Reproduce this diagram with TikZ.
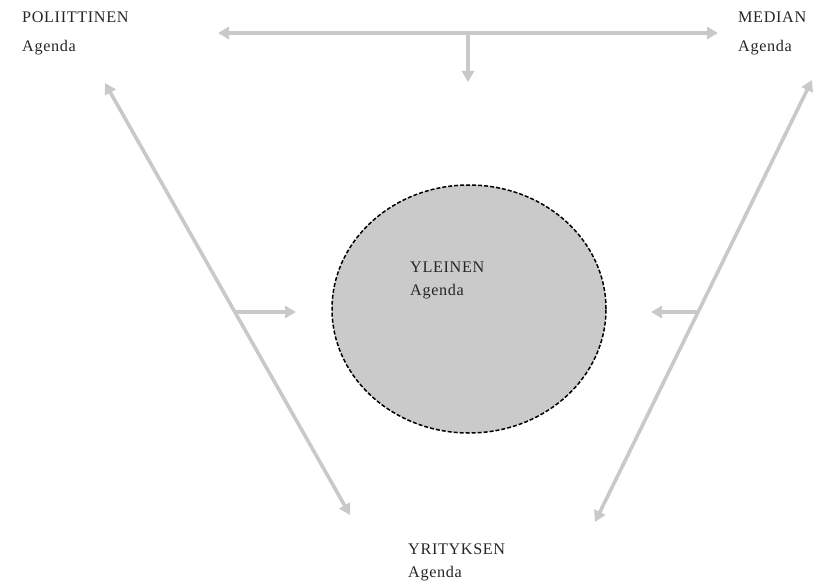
\documentclass[tikz,border=0pt]{standalone}
\usepackage{fontspec}
\setmainfont{Liberation Serif}[LetterSpace=4]
\usepackage{tikz}
\usetikzlibrary {arrows.meta,
                 calc,
                 positioning,
                 shapes.geometric}
\definecolor{flowgray}{HTML}{C9C9C9}
\definecolor{poolgray}{HTML}{CACACA}
\definecolor{labelgray}{HTML}{262626}
\tikzset{
        agenda/.style={align=left, inner sep=0pt, text=labelgray,
                       font=\fontsize{16.2}{#1}\selectfont},
        agenda/.default=23,
        pool/.style={ellipse, draw=black, fill=poolgray,
                     line width=1.5pt, dash pattern=on 4pt off 2pt,
                     minimum width=274pt, minimum height=248pt},
        flow/.style={-{Triangle[length=11pt,width=12pt]}, draw=flowgray,
                     line width=3.6pt},
        twoflow/.style={flow, {Triangle[length=11pt,width=12pt]}-{Triangle[length=11pt,width=12pt]}},
 }

\begin{document}
\begin{tikzpicture}[x=1pt, y=-1pt]
    \useasboundingbox (0,0) rectangle (840,588);

    \node[pool] (yleinen) at (469,309) {};
    \node[agenda, anchor=north west] (yleinenTxt) at (410,262) {YLEINEN\\Agenda};

    \node[agenda=29, anchor=north west] (pol) at (22,12) {POLIITTINEN\\Agenda};
    \node[agenda=29, anchor=north west] (med) at (738,12) {MEDIAN\\Agenda};
    \node[agenda, anchor=north west] (yri) at (408,544) {YRITYKSEN\\Agenda};

    % arrow ends
    \coordinate (tl) at (218,33);
    \coordinate (tr) at (718,33);
    \coordinate (lt) at (105,83);
    \coordinate (lb) at (350,515);
    \coordinate (rt) at (812,80);
    \coordinate (rb) at (595,522);

    \coordinate (tm) at ($(tl)!0.5!(tr)$);
    \coordinate (tmEnd) at (468,82);
    \coordinate (lm) at ($(lt)!0.53!(lb)$);
    \coordinate (lmEnd) at (296,312);
    \coordinate (rm) at ($(rt)!0.525!(rb)$);
    \coordinate (rmEnd) at (651,312);

    \draw[twoflow] (tl) -- (tr);
    \draw[twoflow] (lt) -- (lb);
    \draw[twoflow] (rt) -- (rb);

    \draw[flow] (tm) -- (tmEnd);
    \draw[flow] (lm) -- (lmEnd);
    \draw[flow] (rm) -- (rmEnd);
\end{tikzpicture}
\end{document}
